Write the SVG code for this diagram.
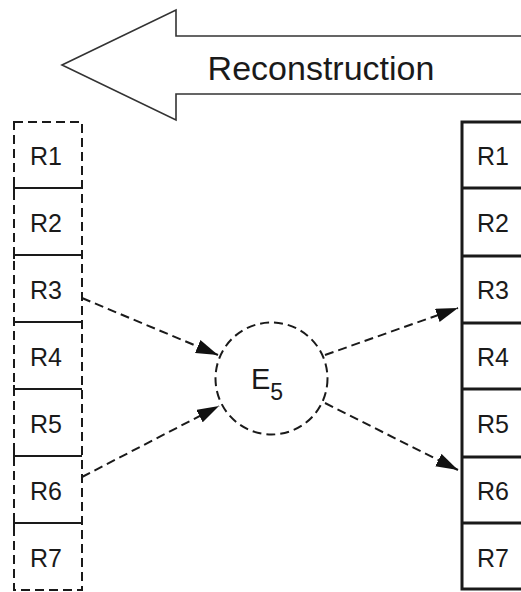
<svg xmlns="http://www.w3.org/2000/svg" width="521" height="592" viewBox="0 0 521 592">
  <style>
    .lbl { font-family: "Liberation Sans", Arial, sans-serif; font-size: 25px; fill: #1a1a1a; }
    .title { font-family: "Liberation Sans", Arial, sans-serif; font-size: 34px; fill: #1a1a1a; }
    .node-name { font-family: "Liberation Sans", Arial, sans-serif; font-size: 29px; fill: #1a1a1a; }
    .node-name .sub { font-size: 23px; }
    .dash { fill: none; stroke: #1a1a1a; stroke-width: 2; stroke-dasharray: 9 5; }
    .solid { fill: none; stroke: #1a1a1a; stroke-width: 3; }
    .div { stroke: #1a1a1a; stroke-width: 2; }
  </style>
  <defs>
    <marker id="tri" viewBox="0 0 22 14" refX="22" refY="7" markerWidth="22" markerHeight="14" markerUnits="userSpaceOnUse" orient="auto">
      <path d="M0,0 L22,7 L0,14 Z" fill="#111"/>
    </marker>
  </defs>
  <rect width="521" height="592" fill="#fff"/>

  <!-- big hollow direction arrow -->
  <g id="reconstruction">
    <path d="M62,65 L176,10 L176,36 L530,36 L530,94 L176,94 L176,120 Z" fill="#fff" stroke="#333" stroke-width="1.6"/>
    <text class="title" x="321" y="80" text-anchor="middle">Reconstruction</text>
  </g>

  <!-- dashed register column -->
  <g id="left-column">
    <rect class="dash" x="14" y="122" width="68" height="468"/>
    <g class="div">
      <line x1="14" y1="188" x2="82" y2="188"/><line x1="14" y1="184" x2="14" y2="192"/>
      <line x1="14" y1="255" x2="82" y2="255"/><line x1="14" y1="251" x2="14" y2="259"/>
      <line x1="14" y1="322" x2="82" y2="322"/><line x1="14" y1="318" x2="14" y2="326"/>
      <line x1="14" y1="389" x2="82" y2="389"/><line x1="14" y1="385" x2="14" y2="393"/>
      <line x1="14" y1="456" x2="82" y2="456"/><line x1="14" y1="452" x2="14" y2="460"/>
      <line x1="14" y1="523" x2="82" y2="523"/><line x1="14" y1="519" x2="14" y2="527"/>
    </g>
    <text class="lbl" x="46" y="165" text-anchor="middle">R1</text>
    <text class="lbl" x="46" y="232" text-anchor="middle">R2</text>
    <text class="lbl" x="46" y="299" text-anchor="middle">R3</text>
    <text class="lbl" x="46" y="366" text-anchor="middle">R4</text>
    <text class="lbl" x="46" y="433" text-anchor="middle">R5</text>
    <text class="lbl" x="46" y="500" text-anchor="middle">R6</text>
    <text class="lbl" x="46" y="567" text-anchor="middle">R7</text>
  </g>

  <!-- solid register column -->
  <g id="right-column">
    <rect class="solid" x="462" y="122" width="80" height="467"/>
    <g class="solid">
      <line x1="462" y1="188" x2="542" y2="188"/>
      <line x1="462" y1="256" x2="542" y2="256"/>
      <line x1="462" y1="323" x2="542" y2="323"/>
      <line x1="462" y1="389" x2="542" y2="389"/>
      <line x1="462" y1="457" x2="542" y2="457"/>
      <line x1="462" y1="523" x2="542" y2="523"/>
    </g>
    <text class="lbl" x="493" y="165" text-anchor="middle">R1</text>
    <text class="lbl" x="493" y="232" text-anchor="middle">R2</text>
    <text class="lbl" x="493" y="299" text-anchor="middle">R3</text>
    <text class="lbl" x="493" y="366" text-anchor="middle">R4</text>
    <text class="lbl" x="493" y="433" text-anchor="middle">R5</text>
    <text class="lbl" x="493" y="500" text-anchor="middle">R6</text>
    <text class="lbl" x="493" y="567" text-anchor="middle">R7</text>
  </g>

  <!-- encoder node -->
  <g id="e5">
    <circle class="dash" cx="271.5" cy="378.5" r="56"/>
    <text class="node-name" x="251" y="389">E<tspan class="sub" dy="11">5</tspan></text>
  </g>

  <g id="connectors">
    <line x1="82" y1="298" x2="218" y2="355" class="dash" marker-end="url(#tri)"/>
    <line x1="82" y1="477" x2="219" y2="406" class="dash" marker-end="url(#tri)"/>
    <line x1="325" y1="355" x2="458" y2="308" class="dash" marker-end="url(#tri)"/>
    <line x1="325" y1="403" x2="458" y2="470" class="dash" marker-end="url(#tri)"/>
  </g>
</svg>
